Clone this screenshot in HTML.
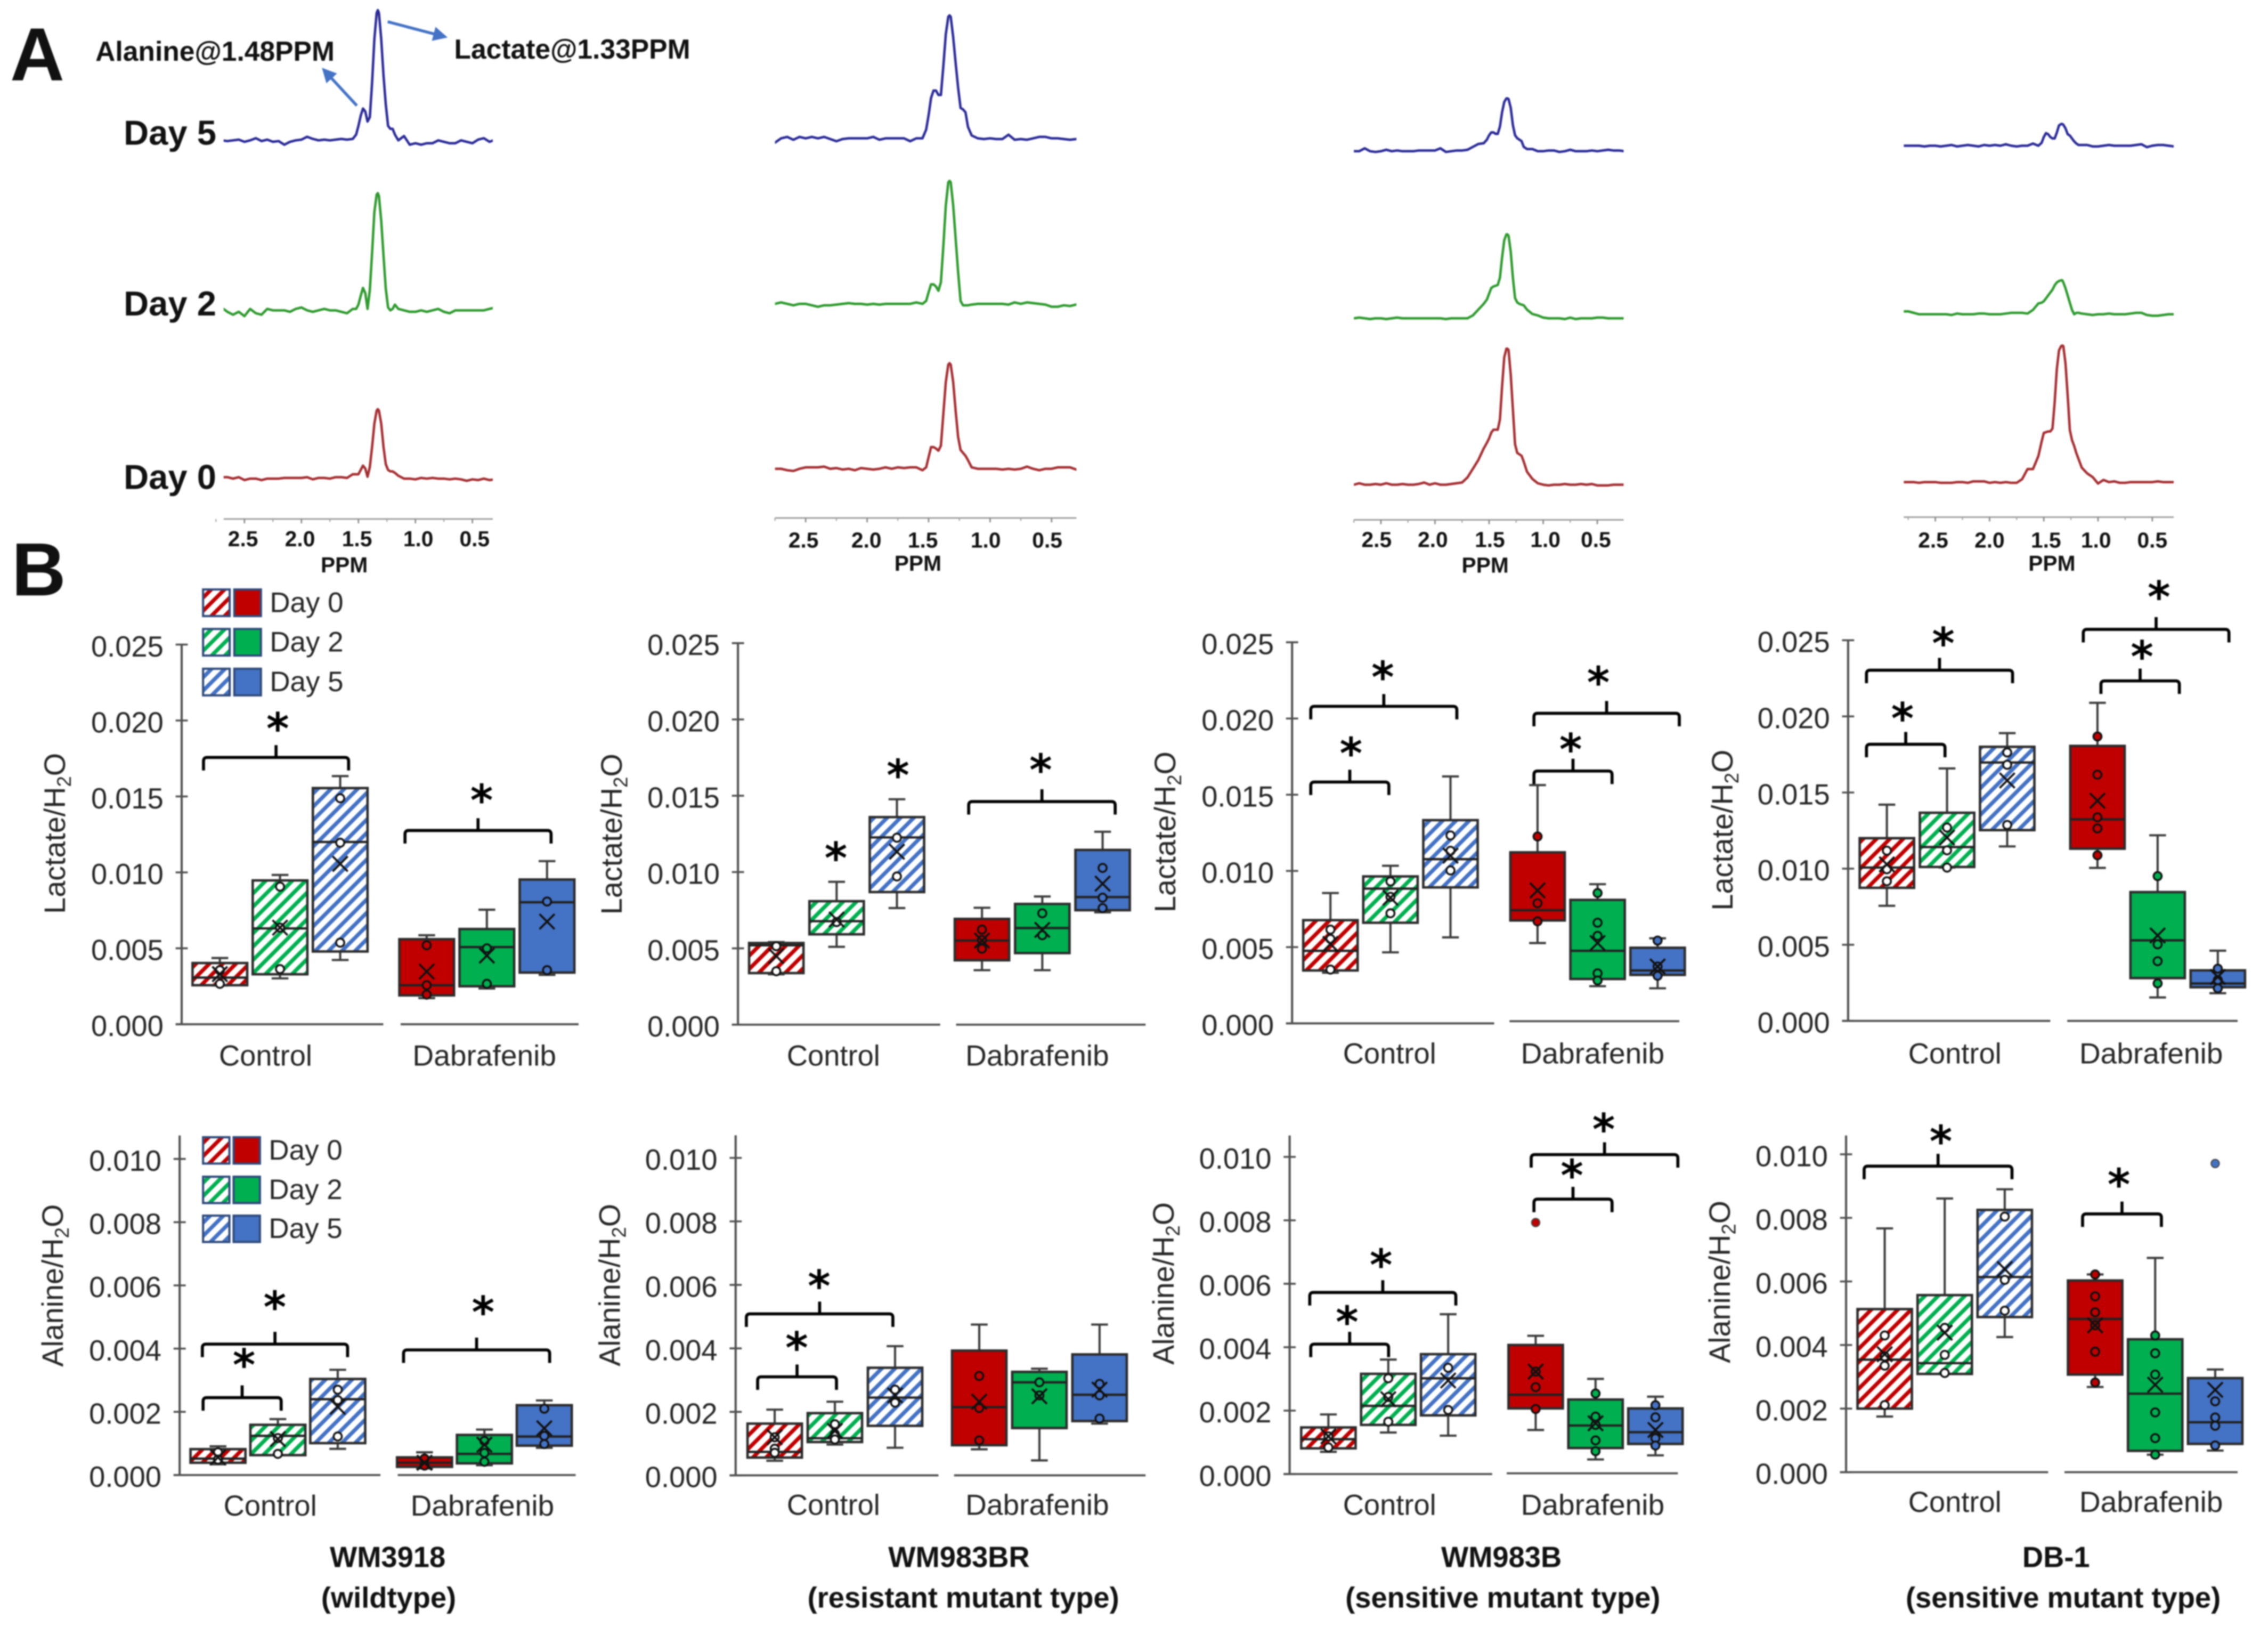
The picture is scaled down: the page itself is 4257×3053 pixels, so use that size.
<!DOCTYPE html>
<html lang="en">
<head>
<meta charset="utf-8">
<title>Lactate and alanine spectra and box plots</title>
<style>
html,body{margin:0;padding:0;background:#fff;width:4257px;height:3053px;overflow:hidden}
svg{display:block;filter:blur(1.3px)}
text{font-family:"Liberation Sans",sans-serif;fill:#262626}
.bold{font-weight:700;fill:#111}
</style>
</head>
<body>
<svg id="figure" xmlns="http://www.w3.org/2000/svg" width="4257" height="3053" viewBox="0 0 1568 1124.5">
<defs>
  <pattern id="hatch0" width="6.5" height="6.5" patternUnits="userSpaceOnUse" patternTransform="rotate(45)"><rect width="6.5" height="6.5" fill="#fff"/><rect width="2.7" height="6.5" fill="#c00000"/></pattern>
  <pattern id="hatch1" width="6.5" height="6.5" patternUnits="userSpaceOnUse" patternTransform="rotate(45)"><rect width="6.5" height="6.5" fill="#fff"/><rect width="2.7" height="6.5" fill="#00b050"/></pattern>
  <pattern id="hatch2" width="6.5" height="6.5" patternUnits="userSpaceOnUse" patternTransform="rotate(45)"><rect width="6.5" height="6.5" fill="#fff"/><rect width="2.7" height="6.5" fill="#4472c4"/></pattern>
  <marker id="arrowhead" markerWidth="5" markerHeight="5" refX="3.2" refY="2.5" orient="auto"><path d="M0,0 L5,2.5 L0,5 Z" fill="#4472c4"/></marker>
</defs>
<rect width="1568" height="1124.5" fill="#fff"/>

<text x="7" y="55.5" font-size="52" class="bold" fill="#000">A</text>
<text x="8" y="411.5" font-size="52" class="bold" fill="#000">B</text>

<text x="66" y="42" font-size="19" class="bold">Alanine@1.48PPM</text>
<text x="314" y="40.5" font-size="19" class="bold">Lactate@1.33PPM</text>
<line x1="246.7" y1="73" x2="225" y2="49.5" stroke="#4472c4" stroke-width="2" marker-end="url(#arrowhead)"/>
<line x1="268" y1="15" x2="306" y2="25" stroke="#4472c4" stroke-width="2" marker-end="url(#arrowhead)"/>

<text x="85.5" y="100" font-size="24" class="bold">Day 5</text>
<text x="85.5" y="218" font-size="24" class="bold">Day 2</text>
<text x="85.5" y="338" font-size="24" class="bold">Day 0</text>

<text x="268" y="1083" font-size="20" text-anchor="middle" class="bold">WM3918</text>
<text x="268.7" y="1111" font-size="20" text-anchor="middle" class="bold">(wildtype)</text>
<text x="663" y="1083" font-size="20" text-anchor="middle" class="bold">WM983BR</text>
<text x="666" y="1111" font-size="20" text-anchor="middle" class="bold">(resistant mutant type)</text>
<text x="1038" y="1083" font-size="20" text-anchor="middle" class="bold">WM983B</text>
<text x="1039" y="1111" font-size="20" text-anchor="middle" class="bold">(sensitive mutant type)</text>
<text x="1421.5" y="1083" font-size="20" text-anchor="middle" class="bold">DB-1</text>
<text x="1426.4" y="1111" font-size="20" text-anchor="middle" class="bold">(sensitive mutant type)</text>
</svg>

<script>
/* ---------- Spectra data: ppm grid and intensities (a.u.) ---------- */
const ppmGrid = [2.80,2.75,2.70,2.65,2.60,2.55,2.50,2.45,2.40,2.35,2.30,2.25,2.20,2.15,2.10,2.05,2.00,1.95,1.90,1.85,1.80,1.75,
  1.70,1.65,1.60,1.55,1.52,1.50,1.48,1.46,1.44,1.42,1.40,1.38,1.36,1.34,1.33,1.32,1.30,1.28,1.26,1.24,1.22,1.20,1.18,1.15,1.10,
  1.05,1.00,0.95,0.90,0.85,0.80,0.75,0.70,0.65,0.60,0.55,0.50,0.45,0.40,0.35,0.30,0.25];
const ppmTicks = [2.5,2.0,1.5,1.0,0.5];
const ppmTickLabels = ["2.5","2.0","1.5","1.0","0.5"];
const ppmMinorTicks = [2.75,2.25,1.75,1.25,0.75];

const specWM3918Day5 = [0,0,0,-0.5,0,0.5,-1,0,1.5,-0.5,0.5,-1,-0.5,-3,-1,0,0.5,2.5,1,0,0.5,0,
  0.5,1,0.5,1,4,10,17,22,20,13,16,40,70,88,90,88,70,45,25,10,8,8,4,0,3,
  -3,-2,-3,-2,-2,0,-1,-2,-2,0,-1,-2,0.5,1.5,-1,0.5,0];
const specWM3918Day2 = [1,1,2,-1,-3,-1,-4,1,-2,-3,1,0,0,0,-1,1,2,0,-1,0,1,0,
  0,-1,-2,1,1,4,10,15.5,12,1,14,40,68,80,81,79,62,38,15,2,0,1,4,1,0,
  -1,-1,0,-1,0,1,-1,-2,0,0,0,0,0,0,1,2,3];
const specWM3918Day0 = [2,2,1,1,0,1,-1,0,0,-1,0,0,0,0.5,0.5,0.5,0.5,1,-0.5,0.5,0.5,0,
  1,1,0.5,3,3,3,6,9,7,1.3,8,22,38,47,48,47,38,22,10,6,5,5,4,2,0,
  0,-0.5,0.5,0,0.5,0,0,-0.5,0,-0.5,-1.5,-0.5,-1,0,-1,-0.5,0];
const specWM983BRDay5 = [-3,-3,0,1,-1,1,0,1,0,1,-0.5,-2,-0.5,0,0,0,0,1,-1,0,0,0,
  0,-2,0,0,6,16,28,33,33,30,30,50,72,84,85,84,70,52,35,21,20,18,8,2,0,
  -0.5,0,-0.5,-0.5,2.5,-1,-0.5,-1,0,1,1,0,0,-0.5,-1,-0.5,0];
const specWM983BRDay2 = [0,0,1,0,-1,0,0,-1,-2,-1,-1,-0.5,0,0.5,0,0,-0.5,0,-0.5,0,0,0,
  0,0,1,0,2,8,13.5,13.5,12,9,15,40,68,84,85,84,68,45,22,2,-1,-1,-1,-0.5,0,
  0,0,0,0,-0.5,1,0,1,0.5,0,-0.5,-2,-2,-1,-1.5,-0.5,0];
const specWM983BRDay0 = [0,0,0,-1,-1.5,0,1,1,1,1.5,0,0.5,-0.5,0,-1,0.5,0,-0.5,0,1,0,1,
  0.5,1,1,-1,1,8,15,15,14,12.5,16,38,60,72,73,72,60,40,22,13,11,9,6,1,0,
  0,0,0,-0.5,0,-0.5,0,1.5,0,-1,0,0,1,1,1,-0.5,0];
const specWM983BDay5 = [0,0,0,2,0,-0.5,0,1,0,0.5,0,0,0,0.5,0.5,0.5,0.5,2,-0.5,0,0.5,0.5,
  1,3,5,5.5,8,11,13,13,12,12,17,27,34,36.5,36.5,36,30,18,11,9,8,7,3,1.5,1.5,
  0,0,0.5,0.5,-0.5,0,1,0,0,0,0.5,0,0.5,1,0.5,0.5,0];
const specWM983BDay2 = [0,0,0.5,0,-0.5,0,0,-0.5,0,0.5,0,0,0,0,0,0,0,0,-0.5,0,0,0,
  0,2,6,10,13,17,21,22,22.5,23,28,42,54,58,58,57,46,28,14,11,10,9.5,9,6,3,
  2,0.5,0,0,0,-0.5,0.5,-0.5,0,0,0,0.5,0.5,0,0,0,0];
const specWM983BDay0 = [0,0,1,0,0,0.5,0,1,0,0,0.5,0,0,0.5,1.5,0,1,0,0,0.5,1,1.5,
  5,11,17,25,29,32,36,38,38,38,45,68,88,94,94,93,76,52,28,22,21,20,16,9,4,
  1,0,-0.5,0,0,0.5,0,0,0.5,0,0.5,-0.5,-0.5,-0.5,0,0,0];
const specDB1Day5 = [0,0,0,0,-0.5,0,0,-0.5,0,0.5,-0.5,0,0.5,0,-0.5,0.5,0,0.5,0,1,0,-0.5,
  0,0,1.5,0,2,6,8.7,8,6,5,5,9,14,15,15,14.5,12,8,7,5,3,1.5,0.5,0.5,0.5,
  -0.5,-0.5,0,0.5,0,0,0,0,0.5,1,-1,0,0.5,0.5,0,-0.5,0];
const specDB1Day2 = [2,2,1,0,0,0,0,0,0,-0.5,0.5,0,0,0,0.5,0.5,0,0,0,0.5,1,1,
  1,0.5,3,7.5,8,9,11,13,15,17,20,22,23,23.5,23.5,22,18,13,8,3,0,1,1,0.5,0,
  -0.5,0,0,0.5,0,0,0,0.5,1,1,-0.5,-1,-1,-0.5,0,0,0];
const specDB1Day0 = [0,0,0,-0.5,0,0,0,-0.5,-0.5,-0.5,0,0,-0.5,0.5,0.5,0.5,-0.5,0,-0.5,0,-0.5,-0.5,
  2,9,9,18,28,34,34.5,35,35,37,55,78,91,94,94.4,94,82,60,36,29,25,20,16,10,6,
  3.5,-1,1.5,0,0.5,-0.5,-0.5,0,0,0,0,0,0.5,0,0,0,0];

/* ---------- Box plot shared categories and axes ---------- */
const groupLabels = ["Control","Dabrafenib"];
const dayLabels = ["Day 0","Day 2","Day 5"];
const lactateTicks = [0,0.005,0.010,0.015,0.020,0.025];
const lactateTickLabels = ["0.000","0.005","0.010","0.015","0.020","0.025"];
const alanineTicks = [0,0.002,0.004,0.006,0.008,0.010];
const alanineTickLabels = ["0.000","0.002","0.004","0.006","0.008","0.010"];

/* Box order in every series: Control D0, D2, D5, Dabrafenib D0, D2, D5 */
const lacWM3918Low  = [0.00255,0.00302,0.00423,0.00172,0.00235,0.00325];
const lacWM3918Q1   = [0.00257,0.00329,0.00479,0.0019,0.0025,0.0034];
const lacWM3918Med  = [0.00307,0.00631,0.012,0.00257,0.00508,0.00803];
const lacWM3918Q3   = [0.00403,0.00947,0.01555,0.0056,0.00627,0.00953];
const lacWM3918High = [0.00436,0.00983,0.01634,0.00586,0.00754,0.01074];
const lacWM3918Mean = [0.0033,0.00636,0.01056,0.00347,0.00452,0.00676];
const lacWM3918Pts  = [[0.00356,0.00266],[0.00906,0.00636,0.00363],[0.01488,0.01195,0.00537],[0.0052,0.00257,0.00195],[0.005,0.00266],[0.00808,0.00356]];

const lacWM983BRLow  = [0.0033,0.0051,0.00764,0.00357,0.00357,0.00736];
const lacWM983BRQ1   = [0.00338,0.00592,0.00869,0.00422,0.00469,0.0075];
const lacWM983BRMed  = [0.0052,0.00678,0.01227,0.00551,0.00633,0.00836];
const lacWM983BRQ3   = [0.00535,0.00809,0.0136,0.00693,0.00791,0.01145];
const lacWM983BRHigh = [0.00541,0.00936,0.01477,0.00766,0.0084,0.01264];
const lacWM983BRMean = [0.00449,0.00689,0.01133,0.00551,0.00621,0.00924];
const lacWM983BRPts  = [[0.00514,0.0035],[0.00672],[0.01225,0.00971],[0.00623,0.00555,0.00498],[0.0073,0.00586],[0.01027,0.00832,0.00764]];

const lacWM983BLow  = [0.00332,0.00466,0.00564,0.00527,0.00244,0.0023];
const lacWM983BQ1   = [0.00347,0.0066,0.00892,0.00675,0.00291,0.00318];
const lacWM983BMed  = [0.00476,0.00884,0.01077,0.00742,0.00476,0.00347];
const lacWM983BQ3   = [0.00677,0.00964,0.01333,0.01122,0.0081,0.00496];
const lacWM983BHigh = [0.00855,0.01034,0.0162,0.01563,0.00913,0.00558];
const lacWM983BMean = [0.00521,0.00824,0.011,0.00872,0.00527,0.00373];
const lacWM983BPts  = [[0.00615,0.00554,0.00353],[0.00931,0.0083,0.00722],[0.01233,0.01132,0.01003],[0.01226,0.00788,0.00669],[0.00855,0.0066,0.00574,0.00328,0.00281],[0.00543,0.00373,0.00312]];

const lacDB1Low  = [0.00756,0.01007,0.01146,0.01005,0.00154,0.00182];
const lacDB1Q1   = [0.00874,0.01011,0.01253,0.01131,0.00281,0.00221];
const lacDB1Med  = [0.01007,0.01142,0.01697,0.01324,0.00529,0.00246];
const lacDB1Q3   = [0.012,0.01367,0.018,0.01806,0.00846,0.00332];
const lacDB1High = [0.0142,0.01658,0.0189,0.02089,0.01219,0.00461];
const lacDB1Mean = [0.01028,0.01204,0.01579,0.01446,0.00561,0.00289];
const lacDB1Pts  = [[0.01118,0.00996,0.00917],[0.0127,0.0112,0.01007],[0.01763,0.01682,0.01287],[0.01868,0.01617,0.01337,0.01264,0.01088],[0.00951,0.00503,0.00392,0.00246],[0.00343,0.00268,0.00214]];

const alaWM3918Low  = [0.00034,0.00063,0.00083,0.00021,0.00031,0.00086];
const alaWM3918Q1   = [0.00039,0.00063,0.00101,0.00026,0.00037,0.00093];
const alaWM3918Med  = [0.00052,0.00124,0.0024,0.00039,0.00067,0.00122];
const alaWM3918Q3   = [0.00082,0.00159,0.00304,0.00056,0.00127,0.00221];
const alaWM3918High = [0.00091,0.00177,0.00333,0.00072,0.00144,0.00236];
const alaWM3918Mean = [0.00056,0.00114,0.00216,0.00039,0.00096,0.00148];
const alaWM3918Pts  = [[0.00072,0.00049],[0.00117,0.00067],[0.0027,0.00237,0.00122],[0.00052,0.0003],[0.00108,0.0007,0.00042],[0.0021,0.00124,0.00098]];

const alaWM983BRLow  = [0.00046,0.00097,0.00087,0.00082,0.00047,0.00163];
const alaWM983BRQ1   = [0.00056,0.00105,0.00156,0.00095,0.00149,0.00171];
const alaWM983BRMed  = [0.00074,0.00117,0.00245,0.00215,0.00293,0.00254];
const alaWM983BRQ3   = [0.00163,0.00196,0.00339,0.00393,0.00326,0.00381];
const alaWM983BRHigh = [0.00207,0.00232,0.00407,0.00475,0.00336,0.00475];
const alaWM983BRMean = [0.0012,0.0014,0.00252,0.00232,0.00249,0.0027];
const alaWM983BRPts  = [[0.0012,0.00084,0.00071],[0.00161,0.0013,0.00113],[0.0027,0.00229],[0.00313,0.00212,0.0011],[0.00293,0.00252],[0.00288,0.00252,0.00179]];

const alaWM983BLow  = [0.0007,0.00131,0.00121,0.00139,0.00046,0.00059];
const alaWM983BQ1   = [0.00081,0.00155,0.00185,0.00207,0.00082,0.00095];
const alaWM983BMed  = [0.0011,0.00215,0.00302,0.0025,0.00153,0.00132];
const alaWM983BQ3   = [0.00147,0.00316,0.00378,0.00407,0.00235,0.00207];
const alaWM983BHigh = [0.00188,0.00361,0.00504,0.00436,0.003,0.00244];
const alaWM983BMean = [0.00119,0.00236,0.00295,0.00323,0.0016,0.00139];
const alaWM983BPts  = [[0.00119,0.00084],[0.00302,0.00243,0.00165],[0.00335,0.00202],[0.00323,0.00274,0.00205],[0.00254,0.00181,0.00155,0.00106,0.00072],[0.00217,0.00179,0.00113,0.0009]];
const alaWM983BOut  = [[],[],[],[0.00793],[],[]];

const alaDB1Low  = [0.00175,0.00309,0.00425,0.00268,0.00055,0.00068];
const alaDB1Q1   = [0.002,0.00309,0.00488,0.00307,0.00067,0.00089];
const alaDB1Med  = [0.00354,0.00343,0.00614,0.00482,0.00247,0.00157];
const alaDB1Q3   = [0.00513,0.00557,0.00825,0.00603,0.00418,0.00296];
const alaDB1High = [0.00767,0.00861,0.0089,0.00622,0.00674,0.00323];
const alaDB1Mean = [0.00371,0.00439,0.00639,0.00462,0.00275,0.00259];
const alaDB1Pts  = [[0.0043,0.00364,0.00335,0.00211],[0.00454,0.00369,0.00312],[0.00804,0.00605,0.00508],[0.00622,0.00553,0.00503,0.00462,0.00379,0.00282],[0.0043,0.00374,0.00307,0.00188,0.00107,0.00055],[0.00223,0.00172,0.00146,0.00084]];
const alaDB1Out  = [[],[],[],[],[],[0.00971]];

/* ---------- Layout ---------- */
const dayFill = ["#c00000","#00b050","#4472c4"];
const spectrumColor = {5:"#2b2b96",2:"#2f9a2f",0:"#a32f33"};
const spectrumLayout = [
  {key:"wm3918", x25:169, perPpm:78.8, xs:154.6, xe:340.7, axisY:358.7, labelY:377.5, ppmX:238, ppmY:395.5, shift:[-1,-1,-1,2,1.5],
   lines:[{day:5,vals:specWM3918Day5,base:97},{day:2,vals:specWM3918Day2,base:214.5},{day:0,vals:specWM3918Day0,base:330.8}]},
  {key:"wm983br", x25:557, perPpm:85, xs:535.8, xe:744.2, axisY:358, labelY:378.5, ppmX:634.6, ppmY:394.5, shift:[-1.5,-0.5,-4,-3,-3],
   lines:[{day:5,vals:specWM983BRDay5,base:95.6},{day:2,vals:specWM983BRDay2,base:210},{day:0,vals:specWM983BRDay0,base:324}]},
  {key:"wm983b", x25:954.7, perPpm:74.8, xs:936, xe:1122.5, axisY:359.3, labelY:378, ppmX:1026.8, ppmY:395.8, shift:[-3,-1.5,0.5,1.5,-1],
   lines:[{day:5,vals:specWM983BDay5,base:104.5},{day:2,vals:specWM983BDay2,base:220},{day:0,vals:specWM983BDay0,base:335}]},
  {key:"db1", x25:1338, perPpm:75, xs:1316.2, xe:1502.8, axisY:357.4, labelY:378.5, ppmX:1418.6, ppmY:394.5, shift:[-1.5,0,1.5,-1.4,0],
   lines:[{day:5,vals:specDB1Day5,base:100.7},{day:2,vals:specDB1Day2,base:217.2},{day:0,vals:specDB1Day0,base:333.2}]}
];

const panels = [
 {key:"lactate-wm3918",title:"Lactate",ticks:lactateTicks,labels:lactateTickLabels,low:lacWM3918Low,q1:lacWM3918Q1,med:lacWM3918Med,q3:lacWM3918Q3,high:lacWM3918High,mean:lacWM3918Mean,pts:lacWM3918Pts,
  ax:125.6,y0:707.9,yTop:445.5,axTop:445.5,c0:152,d0:295,step:41.6,w:37.8,b1:265,b2a:277,b2b:400,y2:707.9,lc:183.6,ld:335.4,ly:736.5,tx:38,ty:576,
  br:[[140.7,241,523.5,192,499.5],[280,381,574,333,549]]},
 {key:"lactate-wm983br",title:"Lactate",ticks:lactateTicks,labels:lactateTickLabels,low:lacWM983BRLow,q1:lacWM983BRQ1,med:lacWM983BRMed,q3:lacWM983BRQ3,high:lacWM983BRHigh,mean:lacWM983BRMean,pts:lacWM983BRPts,
  ax:510.2,y0:708.2,yTop:444.5,axTop:444.5,c0:536.7,d0:678.9,step:41.7,w:37.6,b1:650,b2a:661,b2b:792,y2:708.2,lc:576.2,ld:717.6,ly:736.5,tx:422.8,ty:576.5,
  br:[[669.7,771,554,719.5,528]],stars:[[577.9,589],[620.8,531.8]]},
 {key:"lactate-wm983b",title:"Lactate",ticks:lactateTicks,labels:lactateTickLabels,low:lacWM983BLow,q1:lacWM983BQ1,med:lacWM983BMed,q3:lacWM983BQ3,high:lacWM983BHigh,mean:lacWM983BMean,pts:lacWM983BPts,
  ax:893.3,y0:707.3,yTop:443.9,axTop:443.9,c0:919.8,d0:1063,step:41.5,w:37.6,b1:1033,b2a:1043.6,b2b:1161,y2:705.8,lc:960.7,ld:1101.6,ly:735,tx:805.6,ty:575,
  br:[[906.2,1007.2,488.2,956,464],[906.2,960.2,540.5,934,516.7],[1060.5,1161,493,1105,467.6],[1060.5,1114.5,532.9,1085.9,513.9]]},
 {key:"lactate-db1",title:"Lactate",ticks:lactateTicks,labels:lactateTickLabels,low:lacDB1Low,q1:lacDB1Q1,med:lacDB1Med,q3:lacDB1Q3,high:lacDB1High,mean:lacDB1Mean,pts:lacDB1Pts,
  ax:1277.7,y0:705.6,yTop:442.5,axTop:442.5,c0:1304.5,d0:1450.1,step:41.6,w:37.6,b1:1417.5,b2a:1429.2,b2b:1547,y2:705.6,lc:1351.5,ld:1487.7,ly:735,tx:1190.8,ty:573.7,
  br:[[1290.4,1391.4,463.2,1343.5,440.6],[1290.4,1344.7,514.4,1315.3,492.5],[1440.3,1541,435,1492.6,408.6],[1452.5,1506.7,470.6,1480.9,449.7]]},
 {key:"alanine-wm3918",title:"Alanine",ticks:alanineTicks,labels:alanineTickLabels,low:alaWM3918Low,q1:alaWM3918Q1,med:alaWM3918Med,q3:alaWM3918Q3,high:alaWM3918High,mean:alaWM3918Mean,pts:alaWM3918Pts,
  ax:124.2,y0:1019.5,yTop:801,axTop:784.8,c0:150.7,d0:293.5,step:41.4,w:38,b1:263,b2a:275,b2b:398,y2:1019.5,lc:186.8,ld:334,ly:1047.5,tx:36.5,ty:888.5,
  br:[[139.9,240.3,929,190,899.4],[140.4,194.4,966,168.7,939.3],[279,380,933,334,902.8]]},
 {key:"alanine-wm983br",title:"Alanine",ticks:alanineTicks,labels:alanineTickLabels,low:alaWM983BRLow,q1:alaWM983BRQ1,med:alaWM983BRMed,q3:alaWM983BRQ3,high:alaWM983BRHigh,mean:alaWM983BRMean,pts:alaWM983BRPts,
  ax:508.6,y0:1019.7,yTop:800.3,axTop:784.7,c0:535.6,d0:677,step:41.6,w:37.6,b1:648.8,b2a:659.6,b2b:792,y2:1019.7,lc:576.2,ld:717.6,ly:1047,tx:421.6,ty:888.2,
  br:[[516,617.3,908.1,566.3,884.7],[523.8,578.3,951.6,550.8,927.5]]},
 {key:"alanine-wm983b",title:"Alanine",ticks:alanineTicks,labels:alanineTickLabels,low:alaWM983BLow,q1:alaWM983BQ1,med:alaWM983BMed,q3:alaWM983BQ3,high:alaWM983BHigh,mean:alaWM983BMean,pts:alaWM983BPts,out:alaWM983BOut,
  ax:891.6,y0:1018.8,yTop:799.6,axTop:784.8,c0:918.4,d0:1061.7,step:41.4,w:37.6,b1:1031.6,b2a:1041.7,b2b:1160,y2:1018.3,lc:960.7,ld:1101.6,ly:1047,tx:804.5,ty:887.1,
  br:[[905.5,1006.5,893.3,954.8,870.3],[906.2,960,929,931.3,909.7],[1058.6,1160,798,1108.7,776.4],[1060.5,1114.5,828.8,1086.8,808.3]]},
 {key:"alanine-db1",title:"Alanine",ticks:alanineTicks,labels:alanineTickLabels,low:alaDB1Low,q1:alaDB1Q1,med:alaDB1Med,q3:alaDB1Q3,high:alaDB1High,mean:alaDB1Mean,pts:alaDB1Pts,out:alaDB1Out,
  ax:1276.3,y0:1017.5,yTop:797.8,axTop:784.8,c0:1303,d0:1448.5,step:41.5,w:37.6,b1:1416,b2a:1427.3,b2b:1547,y2:1017.5,lc:1351.5,ld:1487.7,ly:1045,tx:1188.9,ty:886,
  br:[[1288.8,1391,806,1341.8,784.8],[1439.8,1494.3,839,1464.9,814.6]]}
];

const legends = [
 {key:"top",hx:140.4,sx:162,tx:186.5,size:18.4,rows:[407.4,434.7,462.2]},
 {key:"bottom",hx:140.4,sx:161.5,tx:185.8,size:18.2,rows:[786,813.3,840.2]}
];

/* ---------- Drawing helpers ---------- */
const NS = "http://www.w3.org/2000/svg";
const root = document.getElementById("figure");
function make(parent, tag, attrs, text) {
  const node = document.createElementNS(NS, tag);
  for (const k in attrs) node.setAttribute(k, attrs[k]);
  if (text !== undefined) node.textContent = text;
  parent.appendChild(node);
  return node;
}

/* ---------- Spectra ---------- */
spectrumLayout.forEach(function (col) {
  const xScale = function (ppm) { return col.x25 + (2.5 - ppm) * col.perPpm; };
  const group = make(root, "g", {});
  
  

  const clip = make(group, "clipPath", {id: "clip-" + col.key});
  
  
  make(clip, "rect", {x: col.xs, y: 0, width: col.xe - col.xs, height: 360});

  col.lines.forEach(function (line) {
    const yScale = function (v) { return line.base - v; };
    const pts = ppmGrid.map(function (p, i) {
      return line.vals[i] === undefined ? null : xScale(p).toFixed(2) + "," + yScale(line.vals[i]).toFixed(2);
    }).filter(Boolean).join(" ");
    const path = make(group, "polyline", {points: pts, fill: "none", stroke: spectrumColor[line.day], "stroke-width": 1.7, "stroke-linejoin": "round", "clip-path": "url(#clip-" + col.key + ")"});
    
    
  });

  const axis = make(group, "line", {x1: col.xs, x2: col.xe, y1: col.axisY, y2: col.axisY, stroke: "#9a9a9a", "stroke-width": 1});
  
  

  ppmTicks.forEach(function (p, i) {
    const tick = make(group, "line", {x1: xScale(p), x2: xScale(p), y1: col.axisY, y2: col.axisY + 3, stroke: "#8a8a8a", "stroke-width": 1});
    
    
    const label = make(group, "text", {x: xScale(p) + col.shift[i], y: col.labelY, "font-size": 15, "text-anchor": "middle", "class": "bold"}, ppmTickLabels[i]);
    
    
  });
  ppmMinorTicks.forEach(function (p) {
    const tick = make(group, "line", {x1: xScale(p), x2: xScale(p), y1: col.axisY, y2: col.axisY + 2, stroke: "#a5a5a5", "stroke-width": 0.8});
    
    
  });
  const title = make(group, "text", {x: col.ppmX, y: col.ppmY, "font-size": 15, "text-anchor": "middle", "class": "bold"}, "PPM");
  
  
});

/* ---------- Box plot panels ---------- */
panels.forEach(function (p) {
  const top = p.ticks[p.ticks.length - 1];
  const yScale = function (v) { return p.y0 - (v / top) * (p.y0 - p.yTop); };
  const xScale = function (i) { return i < 3 ? p.c0 + i * p.step : p.d0 + (i - 3) * p.step; };

  const group = make(root, "g", {});
  
  

  const yAxis = make(group, "line", {x1: p.ax, x2: p.ax, y1: p.axTop, y2: p.y0, stroke: "#505050", "stroke-width": 1.5});
  
  

  p.ticks.forEach(function (v, i) {
    const tick = make(group, "line", {x1: p.ax - 4.2, x2: p.ax + 4.2, y1: yScale(v), y2: yScale(v), stroke: "#505050", "stroke-width": 1.3});
    
    
    const label = make(group, "text", {x: p.ax - 12.6, y: yScale(v) + 8.2, "font-size": 20, "text-anchor": "end"}, p.labels[i]);
    
    
  });

  const base1 = make(group, "line", {x1: p.ax - 4.2, x2: p.b1, y1: p.y0, y2: p.y0, stroke: "#505050", "stroke-width": 1.4});
  
  
  const base2 = make(group, "line", {x1: p.b2a, x2: p.b2b, y1: p.y2, y2: p.y2, stroke: "#505050", "stroke-width": 1.4});
  
  

  const lc = make(group, "text", {x: p.lc, y: p.ly, "font-size": 20, "text-anchor": "middle"}, groupLabels[0]);
  
  
  const ld = make(group, "text", {x: p.ld - 0.5, y: p.ly, "font-size": 20.3, "text-anchor": "middle"}, groupLabels[1]);
  
  

  const yTitle = make(group, "text", {x: p.tx + 7, y: p.ty, "font-size": 20.5, "text-anchor": "middle", transform: "rotate(-90 " + (p.tx + 7) + " " + p.ty + ")"});
  
  
  make(yTitle, "tspan", {}, p.title + "/H");
  make(yTitle, "tspan", {"font-size": 13.5, dy: 4}, "2");
  make(yTitle, "tspan", {dy: -4}, "O");

  for (let i = 0; i < 6; i++) {
    const day = i % 3;
    const hatched = i < 3;
    const x = xScale(i);
    const boxName = p.key + "-" + (hatched ? "control" : "dabrafenib") + "-day-" + [0, 2, 5][day];
    const g = make(group, "g", {});
    
    

    const whisker = make(g, "line", {x1: x, x2: x, y1: yScale(p.high[i]), y2: yScale(p.low[i]), stroke: "#3c3c3c", "stroke-width": 1.5});
    
    
    const capHigh = make(g, "line", {x1: x - 5.8, x2: x + 5.8, y1: yScale(p.high[i]), y2: yScale(p.high[i]), stroke: "#3c3c3c", "stroke-width": 1.5});
    
    
    const capLow = make(g, "line", {x1: x - 5.8, x2: x + 5.8, y1: yScale(p.low[i]), y2: yScale(p.low[i]), stroke: "#3c3c3c", "stroke-width": 1.5});
    
    

    const rect = make(g, "rect", {x: x - p.w / 2, y: yScale(p.q3[i]), width: p.w, height: yScale(p.q1[i]) - yScale(p.q3[i]), fill: hatched ? "url(#hatch" + day + ")" : dayFill[day], stroke: "#2c2c2c", "stroke-width": 1.7});
    
    

    const median = make(g, "line", {x1: x - p.w / 2, x2: x + p.w / 2, y1: yScale(p.med[i]), y2: yScale(p.med[i]), stroke: "#222", "stroke-width": 1.6});
    
    

    p.pts[i].forEach(function (v) {
      const dot = make(g, "circle", {cx: x, cy: yScale(v), r: 2.8, fill: hatched ? "#fff" : dayFill[day], stroke: "#111", "stroke-width": 1.3});
      
      
    });
    (p.out ? p.out[i] : []).forEach(function (v) {
      const dot = make(g, "circle", {cx: x, cy: yScale(v), r: 2.8, fill: dayFill[day], stroke: "#444", "stroke-width": 0.8});
      
      
    });

    const my = yScale(p.mean[i]);
    const meanMark = make(g, "path", {d: "M" + (x - 5.2) + "," + (my - 5.2) + "L" + (x + 5.2) + "," + (my + 5.2) + "M" + (x - 5.2) + "," + (my + 5.2) + "L" + (x + 5.2) + "," + (my - 5.2), stroke: "#111", "stroke-width": 1.4, fill: "none"});
    
    
  }

  p.br.forEach(function (b) {
    const mid = (b[0] + b[1]) / 2;
    const d = "M" + b[0] + "," + (b[2] + 9) + "L" + b[0] + "," + (b[2] + 2.5) + "Q" + b[0] + "," + b[2] + " " + (b[0] + 2.5) + "," + b[2] +
      "L" + (b[1] - 2.5) + "," + b[2] + "Q" + b[1] + "," + b[2] + " " + b[1] + "," + (b[2] + 2.5) + "L" + b[1] + "," + (b[2] + 9) +
      "M" + mid + "," + b[2] + "L" + mid + "," + (b[2] - 8.5);
    const bracket = make(group, "path", {d: d, fill: "none", stroke: "#000", "stroke-width": 2.1});
    
    
    const star = make(group, "text", {x: b[3], y: b[4] + 14.5, "font-size": 30, "font-weight": 700, "text-anchor": "middle", style: 'font-family:"DejaVu Sans",sans-serif;fill:#000'}, "*");
    
    
  });
  (p.stars || []).forEach(function (s) {
    const star = make(group, "text", {x: s[0], y: s[1] + 14.5, "font-size": 30, "font-weight": 700, "text-anchor": "middle", style: 'font-family:"DejaVu Sans",sans-serif;fill:#000'}, "*");
    
    
  });
});

/* ---------- Legends ---------- */
legends.forEach(function (lg) {
  const group = make(root, "g", {});
  
  
  lg.rows.forEach(function (y, d) {
    const hatchSwatch = make(group, "rect", {x: lg.hx, y: y, width: lg.size, height: lg.size, fill: "url(#hatch" + d + ")", stroke: "#2f4a7a", "stroke-width": 1.5});
    
    
    const solidSwatch = make(group, "rect", {x: lg.sx, y: y, width: lg.size, height: lg.size, fill: dayFill[d], stroke: "#2f4a7a", "stroke-width": 1.5});
    
    
    const label = make(group, "text", {x: lg.tx, y: y + lg.size / 2 + 6.4, "font-size": 19.5}, dayLabels[d]);
    
    
  });
});
</script>
</body>
</html>
